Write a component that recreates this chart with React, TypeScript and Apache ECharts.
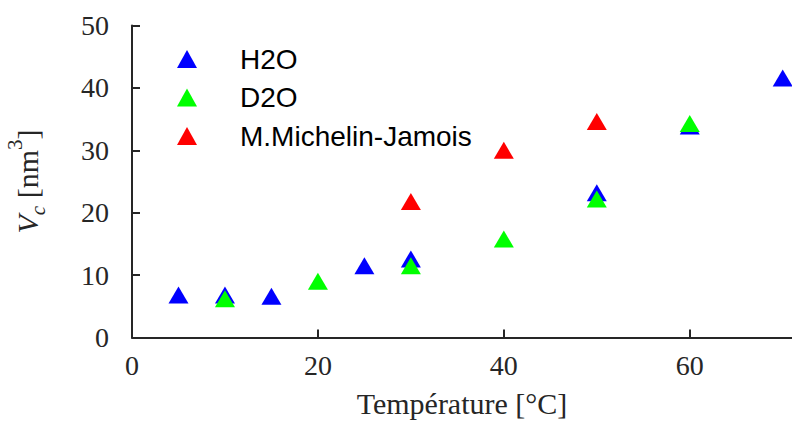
import React, { useEffect, useRef } from "react";
import * as echarts from "echarts";

const seriesNames = ["H2O", "D2O", "M.Michelin-Jamois"];
const seriesColors = ["#0000ff", "#00ff00", "#ff0000"];

const h2oTemp = [5, 10, 15, 25, 30, 50, 60, 70];
const h2oVc = [6.8, 6.8, 6.6, 11.5, 12.6, 23.2, 33.9, 41.6];

const d2oTemp = [10, 20, 30, 40, 50, 60];
const d2oVc = [6.2, 9.0, 11.5, 15.8, 22.2, 34.3];

const mmjTemp = [30, 40, 50];
const mmjVc = [21.8, 30.0, 34.6];

const xTicks = [0, 20, 40, 60];
const yTicks = [0, 10, 20, 30, 40, 50];

const zip = (xs: number[], ys: number[]) => xs.map((x, i) => [x, ys[i]]);

export default function App() {
  const ref = useRef<HTMLDivElement>(null);
  useEffect(() => {
    if (!ref.current) return;
    const chart = echarts.init(ref.current, undefined, { renderer: "svg" });
    const serif = "'Liberation Serif', 'DejaVu Serif', serif";
    const sans = "'Liberation Sans', Arial, sans-serif";
    const axisColor = "#262626";
    const datasets = [zip(h2oTemp, h2oVc), zip(d2oTemp, d2oVc), zip(mmjTemp, mmjVc)];
    chart.setOption({
      animation: false,
      backgroundColor: "#ffffff",
      grid: { left: 132, right: 0, top: 25.5, bottom: 87.5, containLabel: false, outerBoundsMode: "none" },
      legend: {
        orient: "vertical",
        left: 172,
        top: 40,
        itemWidth: 20,
        itemHeight: 18,
        itemGap: 10.5,
        data: seriesNames,
        textStyle: {
          fontFamily: sans,
          fontSize: 28,
          color: "#000",
          lineHeight: 28,
          padding: [0, 0, 0, 38],
        },
      },
      xAxis: {
        type: "value",
        min: 0,
        max: 71,
        interval: 20,
        name: "Température [°C]",
        nameLocation: "middle",
        nameGap: 51,
        nameTextStyle: { fontFamily: serif, fontSize: 30, color: axisColor },
        axisLine: { show: true, lineStyle: { color: axisColor, width: 2 } },
        axisTick: { show: true, inside: true, length: 8, lineStyle: { color: axisColor, width: 2 } },
        axisLabel: {
          margin: 14,
          fontFamily: serif,
          fontSize: 28,
          color: axisColor,
          showMaxLabel: false,
          formatter: (v: number) => (xTicks.includes(v) ? String(v) : ""),
        },
        splitLine: { show: false },
      },
      yAxis: {
        type: "value",
        min: yTicks[0],
        max: yTicks[yTicks.length - 1],
        interval: 10,
        name: "{i|V}{s|c} [nm{p|3}]",
        nameLocation: "middle",
        nameGap: 90,
        nameTextStyle: {
          fontFamily: serif,
          fontSize: 30,
          color: axisColor,
          rich: {
            i: { fontFamily: serif, fontSize: 30, fontStyle: "italic", color: axisColor },
            s: { fontFamily: serif, fontSize: 21, fontStyle: "italic", color: axisColor, verticalAlign: "bottom", padding: [0, 0, -6, 0] },
            p: { fontFamily: serif, fontSize: 21, color: axisColor, verticalAlign: "top", padding: [-8, 0, 0, 0] },
          },
        },
        axisLine: { show: true, lineStyle: { color: axisColor, width: 2 } },
        axisTick: { show: true, inside: true, length: 8, lineStyle: { color: axisColor, width: 2 } },
        axisLabel: { margin: 23, fontFamily: serif, fontSize: 28, color: axisColor },
        splitLine: { show: false },
      },
      series: seriesNames.map((name, i) => ({
        name,
        type: "scatter",
        symbol: "triangle",
        symbolSize: [20, 17],
        itemStyle: { color: seriesColors[i], opacity: 1 },
        data: datasets[i],
        z: 2 + (i === 1 ? 1 : 0),
      })),
    });
    return () => chart.dispose();
  }, []);
  return <div ref={ref} style={{ width: 792, height: 425, position: "absolute", left: 0, top: 0 }} />;
}
